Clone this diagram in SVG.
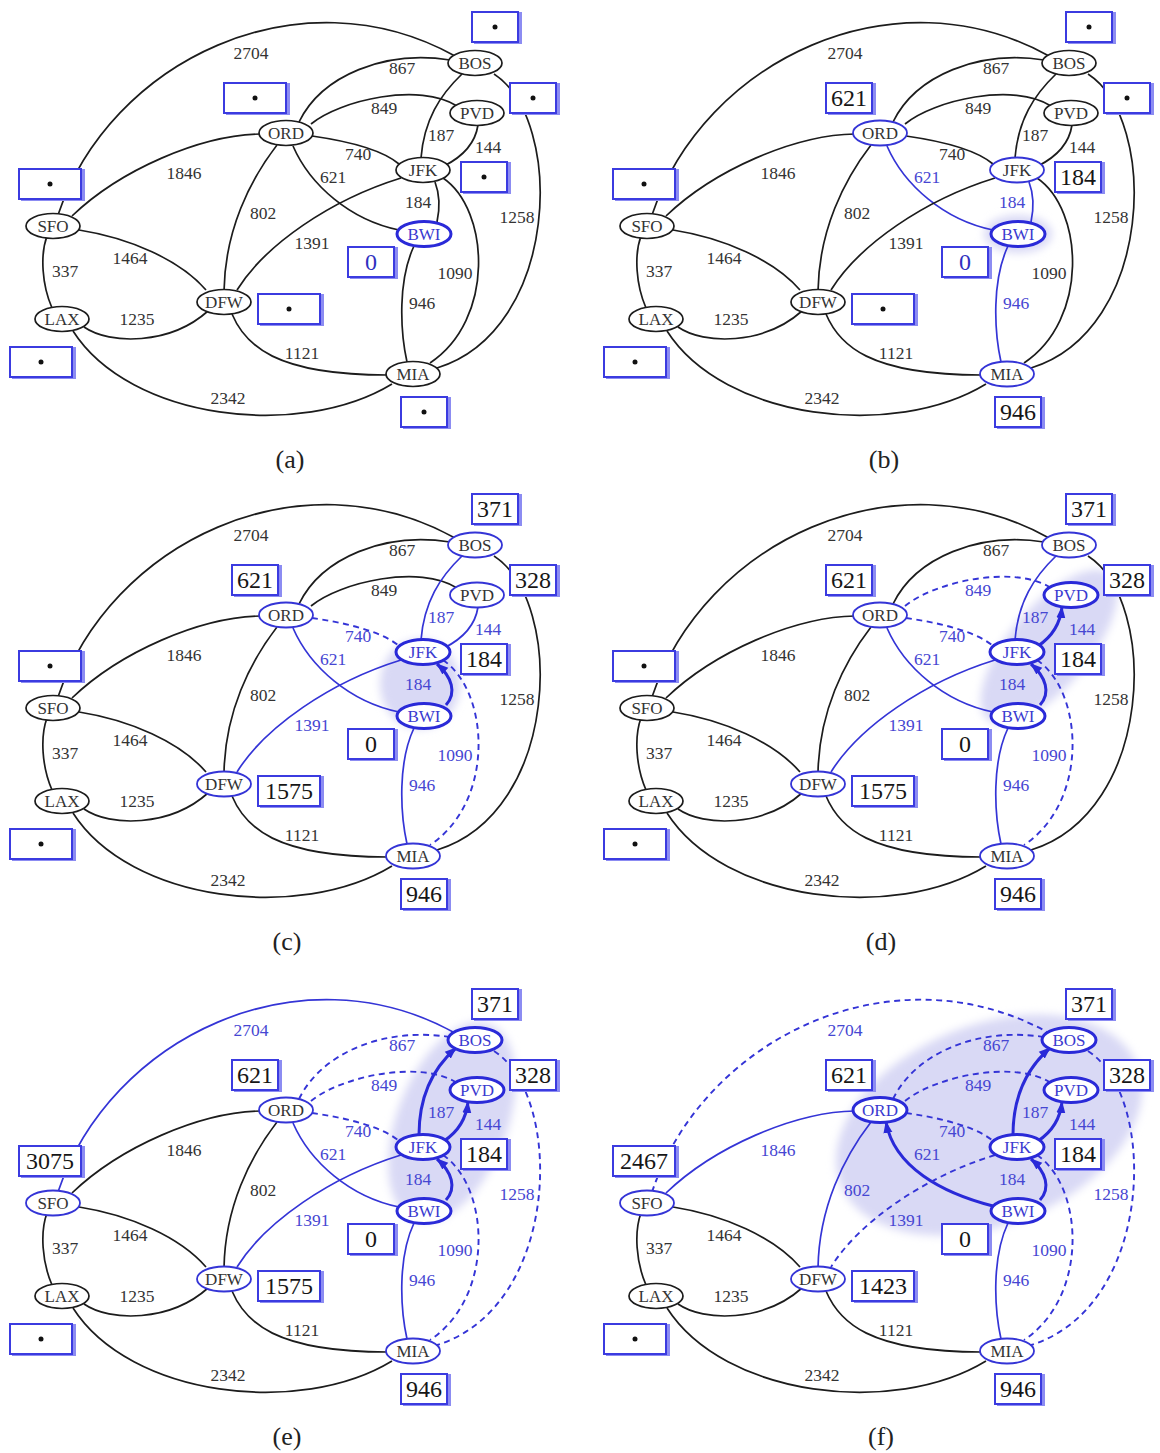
<svg xmlns="http://www.w3.org/2000/svg" xmlns:xlink="http://www.w3.org/1999/xlink" width="1160" height="1453" viewBox="0 0 1160 1453">
<style>
.k{fill:none;stroke:#1c1c1c;stroke-width:1.7}
.b{fill:none;stroke:#3434d6;stroke-width:1.7}
.d{fill:none;stroke:#3434d6;stroke-width:1.9;stroke-dasharray:6 4.5}
.t{fill:none;stroke:#2a2ad8;stroke-width:3;marker-end:url(#ah)}
.lk,.lb{font-family:'Liberation Serif',serif;font-size:17.5px;text-anchor:middle}
.lk{fill:#333}
.lb{fill:#4646d2}
.n0 ellipse{fill:#fff;stroke:#1c1c1c;stroke-width:1.7}
.n1 ellipse{fill:#fff;stroke:#3434d6;stroke-width:1.8}
.n2 ellipse{fill:#fff;stroke:#2a2ad8;stroke-width:3}
.n0 text,.n1 text,.n2 text{font-family:'Liberation Serif',serif;font-size:17px;text-anchor:middle;fill:#333}
.n2 text{fill:#3a3ad0}
.bx rect{fill:#fff;stroke:#3a3ae0;stroke-width:2;filter:url(#sh)}
.bx text{font-family:'Liberation Serif',serif;font-size:24px;text-anchor:middle;fill:#161616}
.bx text.bz{fill:#3030c0}
.bx circle{fill:#111}
.cap{font-family:'Liberation Serif',serif;font-size:26px;text-anchor:middle;fill:#222}
.cl{fill:#d9d9f5;filter:url(#bl)}
</style>
<defs>
<filter id="sh" x="-20%" y="-20%" width="140%" height="140%">
<feOffset in="SourceAlpha" dx="3" dy="1" result="o"/>
<feFlood flood-color="#8c8cf2"/>
<feComposite in2="o" operator="in" result="s"/>
<feMerge><feMergeNode in="s"/><feMergeNode in="SourceGraphic"/></feMerge>
</filter>
<filter id="bl" x="-30%" y="-30%" width="160%" height="160%"><feGaussianBlur stdDeviation="4"/></filter>
<marker id="ah" viewBox="0 0 12 10" refX="11" refY="5" markerWidth="12" markerHeight="10" markerUnits="userSpaceOnUse" orient="auto"><path d="M0,0.5 L12,5 L0,9.5 z" fill="#2a2ad8"/></marker>
<path id="p1" d="M58,215 C110,60 300,-30 455,56"/>
<path id="p2" d="M299,122 C322,75 385,50 450,60"/>
<path id="p3" d="M311,124 C340,100 420,82 457,106"/>
<path id="p4" d="M312,136 C340,140 380,148 399,164"/>
<path id="p5" d="M293,146 C310,185 350,220 399,230"/>
<path id="p6" d="M72,216 C120,170 200,135 261,134"/>
<path id="p7" d="M277,145 C250,180 225,230 224,291"/>
<path id="p8" d="M462,74 C440,95 424,120 421,158"/>
<path id="p9" d="M478,125 C475,145 460,158 444,166"/>
<path id="p10" d="M494,74 C565,120 560,330 437,368"/>
<path id="p11" d="M435,182 C440,195 440,208 437,222"/>
<path id="p12" d="M401,178 C330,200 265,245 237,290"/>
<path id="p13" d="M443,178 C490,210 495,320 430,363"/>
<path id="p14" d="M414,246 C398,280 400,330 407,362"/>
<path id="p15" d="M47,236 C40,255 42,285 52,308"/>
<path id="p16" d="M79,230 C130,238 180,260 206,290"/>
<path id="p17" d="M84,327 C110,345 170,345 208,311"/>
<path id="p18" d="M232,314 C245,345 275,375 387,375"/>
<path id="p19" d="M73,331 C130,420 300,440 392,384"/>
<path id="t11" d="M446,223 C457,211 452,195 437,182"/>
<path id="t9" d="M444,164 C456,156 466,144 468,125"/>
<path id="t8" d="M419,158 C419,120 432,92 456,71"/>
<path id="t5" d="M399,229 C348,216 300,190 292,145"/>
</defs>
<rect width="1160" height="1453" fill="#fff"/>

<!-- ================= (a) ================= -->
<g id="panel-a">
<g id="a-edges">
<use href="#p1" class="k"/><use href="#p2" class="k"/><use href="#p3" class="k"/><use href="#p4" class="k"/><use href="#p5" class="k"/><use href="#p6" class="k"/><use href="#p7" class="k"/><use href="#p8" class="k"/><use href="#p9" class="k"/><use href="#p10" class="k"/><use href="#p11" class="k"/><use href="#p12" class="k"/><use href="#p13" class="k"/><use href="#p14" class="k"/><use href="#p15" class="k"/><use href="#p16" class="k"/><use href="#p17" class="k"/><use href="#p18" class="k"/><use href="#p19" class="k"/>
</g>
<g id="a-labels">
<text class="lk" x="251" y="59">2704</text><text class="lk" x="402" y="74">867</text><text class="lk" x="384" y="114">849</text><text class="lk" x="358" y="160">740</text><text class="lk" x="333" y="183">621</text><text class="lk" x="184" y="179">1846</text><text class="lk" x="263" y="219">802</text><text class="lk" x="441" y="141">187</text><text class="lk" x="488" y="153">144</text><text class="lk" x="517" y="223">1258</text><text class="lk" x="418" y="208">184</text><text class="lk" x="312" y="249">1391</text><text class="lk" x="455" y="279">1090</text><text class="lk" x="422" y="309">946</text><text class="lk" x="65" y="277">337</text><text class="lk" x="130" y="264">1464</text><text class="lk" x="137" y="325">1235</text><text class="lk" x="302" y="359">1121</text><text class="lk" x="228" y="404">2342</text>
</g>
<g id="a-SFO" class="n0"><ellipse cx="53" cy="226" rx="27" ry="12.5"/><text x="53" y="232">SFO</text></g>
<g id="a-LAX" class="n0"><ellipse cx="62" cy="319" rx="27" ry="12.5"/><text x="62" y="325">LAX</text></g>
<g id="a-DFW" class="n0"><ellipse cx="224" cy="302" rx="27" ry="12.5"/><text x="224" y="308">DFW</text></g>
<g id="a-ORD" class="n0"><ellipse cx="286" cy="133" rx="27" ry="12.5"/><text x="286" y="139">ORD</text></g>
<g id="a-BOS" class="n0"><ellipse cx="475" cy="63" rx="27" ry="12.5"/><text x="475" y="69">BOS</text></g>
<g id="a-PVD" class="n0"><ellipse cx="477" cy="113" rx="27" ry="12.5"/><text x="477" y="119">PVD</text></g>
<g id="a-JFK" class="n0"><ellipse cx="423" cy="170" rx="27" ry="12.5"/><text x="423" y="176">JFK</text></g>
<g id="a-BWI" class="n2"><ellipse cx="424" cy="234" rx="27" ry="12.5"/><text x="424" y="240">BWI</text></g>
<g id="a-MIA" class="n0"><ellipse cx="413" cy="374" rx="27" ry="12.5"/><text x="413" y="380">MIA</text></g>
<g id="a-boxes">
<g class="bx"><rect x="472" y="12" width="46" height="30"/><circle cx="495" cy="27" r="2.5"/></g>
<g class="bx"><rect x="510" y="83" width="46" height="30"/><circle cx="533" cy="98" r="2.5"/></g>
<g class="bx"><rect x="224" y="83" width="62" height="30"/><circle cx="255" cy="98" r="2.5"/></g>
<g class="bx"><rect x="461" y="162" width="46" height="30"/><circle cx="484" cy="177" r="2.5"/></g>
<g class="bx"><rect x="348" y="247" width="46" height="30"/><text class="bz" x="371" y="270">0</text></g>
<g class="bx"><rect x="19" y="169" width="62" height="30"/><circle cx="50" cy="184" r="2.5"/></g>
<g class="bx"><rect x="258" y="294" width="62" height="30"/><circle cx="289" cy="309" r="2.5"/></g>
<g class="bx"><rect x="10" y="347" width="62" height="30"/><circle cx="41" cy="362" r="2.5"/></g>
<g class="bx"><rect x="401" y="397" width="46" height="30"/><circle cx="424" cy="412" r="2.5"/></g>
</g>
<text class="cap" x="290" y="468">(a)</text>
</g>

<!-- ================= (b) ================= -->
<g id="panel-b" transform="translate(594,0)">
<ellipse class="cl" cx="424" cy="234" rx="34" ry="19"/>
<g id="b-edges">
<use href="#p1" class="k"/><use href="#p2" class="k"/><use href="#p3" class="k"/><use href="#p4" class="k"/><use href="#p5" class="b"/><use href="#p6" class="k"/><use href="#p7" class="k"/><use href="#p8" class="k"/><use href="#p9" class="k"/><use href="#p10" class="k"/><use href="#p11" class="b"/><use href="#p12" class="k"/><use href="#p13" class="k"/><use href="#p14" class="b"/><use href="#p15" class="k"/><use href="#p16" class="k"/><use href="#p17" class="k"/><use href="#p18" class="k"/><use href="#p19" class="k"/>
</g>
<g id="b-labels">
<text class="lk" x="251" y="59">2704</text><text class="lk" x="402" y="74">867</text><text class="lk" x="384" y="114">849</text><text class="lk" x="358" y="160">740</text><text class="lb" x="333" y="183">621</text><text class="lk" x="184" y="179">1846</text><text class="lk" x="263" y="219">802</text><text class="lk" x="441" y="141">187</text><text class="lk" x="488" y="153">144</text><text class="lk" x="517" y="223">1258</text><text class="lb" x="418" y="208">184</text><text class="lk" x="312" y="249">1391</text><text class="lk" x="455" y="279">1090</text><text class="lb" x="422" y="309">946</text><text class="lk" x="65" y="277">337</text><text class="lk" x="130" y="264">1464</text><text class="lk" x="137" y="325">1235</text><text class="lk" x="302" y="359">1121</text><text class="lk" x="228" y="404">2342</text>
</g>
<g id="b-SFO" class="n0"><ellipse cx="53" cy="226" rx="27" ry="12.5"/><text x="53" y="232">SFO</text></g>
<g id="b-LAX" class="n0"><ellipse cx="62" cy="319" rx="27" ry="12.5"/><text x="62" y="325">LAX</text></g>
<g id="b-DFW" class="n0"><ellipse cx="224" cy="302" rx="27" ry="12.5"/><text x="224" y="308">DFW</text></g>
<g id="b-ORD" class="n1"><ellipse cx="286" cy="133" rx="27" ry="12.5"/><text x="286" y="139">ORD</text></g>
<g id="b-BOS" class="n0"><ellipse cx="475" cy="63" rx="27" ry="12.5"/><text x="475" y="69">BOS</text></g>
<g id="b-PVD" class="n0"><ellipse cx="477" cy="113" rx="27" ry="12.5"/><text x="477" y="119">PVD</text></g>
<g id="b-JFK" class="n1"><ellipse cx="423" cy="170" rx="27" ry="12.5"/><text x="423" y="176">JFK</text></g>
<g id="b-BWI" class="n2"><ellipse cx="424" cy="234" rx="27" ry="12.5"/><text x="424" y="240">BWI</text></g>
<g id="b-MIA" class="n1"><ellipse cx="413" cy="374" rx="27" ry="12.5"/><text x="413" y="380">MIA</text></g>
<g id="b-boxes">
<g class="bx"><rect x="472" y="12" width="46" height="30"/><circle cx="495" cy="27" r="2.5"/></g>
<g class="bx"><rect x="510" y="83" width="46" height="30"/><circle cx="533" cy="98" r="2.5"/></g>
<g class="bx"><rect x="232" y="83" width="46" height="30"/><text x="255" y="106">621</text></g>
<g class="bx"><rect x="461" y="162" width="46" height="30"/><text x="484" y="185">184</text></g>
<g class="bx"><rect x="348" y="247" width="46" height="30"/><text class="bz" x="371" y="270">0</text></g>
<g class="bx"><rect x="19" y="169" width="62" height="30"/><circle cx="50" cy="184" r="2.5"/></g>
<g class="bx"><rect x="258" y="294" width="62" height="30"/><circle cx="289" cy="309" r="2.5"/></g>
<g class="bx"><rect x="10" y="347" width="62" height="30"/><circle cx="41" cy="362" r="2.5"/></g>
<g class="bx"><rect x="401" y="397" width="46" height="30"/><text x="424" y="420">946</text></g>
</g>
<text class="cap" x="290" y="468">(b)</text>
</g>

<!-- ================= (c) ================= -->
<g id="panel-c" transform="translate(0,482)">
<ellipse class="cl" cx="420" cy="202" rx="40" ry="45"/>
<g id="c-edges">
<use href="#p1" class="k"/><use href="#p2" class="k"/><use href="#p3" class="k"/><use href="#p4" class="d"/><use href="#p5" class="b"/><use href="#p6" class="k"/><use href="#p7" class="k"/><use href="#p8" class="b"/><use href="#p9" class="b"/><use href="#p10" class="k"/><use href="#t11" class="t"/><use href="#p12" class="b"/><use href="#p13" class="d"/><use href="#p14" class="b"/><use href="#p15" class="k"/><use href="#p16" class="k"/><use href="#p17" class="k"/><use href="#p18" class="k"/><use href="#p19" class="k"/>
</g>
<g id="c-labels">
<text class="lk" x="251" y="59">2704</text><text class="lk" x="402" y="74">867</text><text class="lk" x="384" y="114">849</text><text class="lb" x="358" y="160">740</text><text class="lb" x="333" y="183">621</text><text class="lk" x="184" y="179">1846</text><text class="lk" x="263" y="219">802</text><text class="lb" x="441" y="141">187</text><text class="lb" x="488" y="153">144</text><text class="lk" x="517" y="223">1258</text><text class="lb" x="418" y="208">184</text><text class="lb" x="312" y="249">1391</text><text class="lb" x="455" y="279">1090</text><text class="lb" x="422" y="309">946</text><text class="lk" x="65" y="277">337</text><text class="lk" x="130" y="264">1464</text><text class="lk" x="137" y="325">1235</text><text class="lk" x="302" y="359">1121</text><text class="lk" x="228" y="404">2342</text>
</g>
<g id="c-SFO" class="n0"><ellipse cx="53" cy="226" rx="27" ry="12.5"/><text x="53" y="232">SFO</text></g>
<g id="c-LAX" class="n0"><ellipse cx="62" cy="319" rx="27" ry="12.5"/><text x="62" y="325">LAX</text></g>
<g id="c-DFW" class="n1"><ellipse cx="224" cy="302" rx="27" ry="12.5"/><text x="224" y="308">DFW</text></g>
<g id="c-ORD" class="n1"><ellipse cx="286" cy="133" rx="27" ry="12.5"/><text x="286" y="139">ORD</text></g>
<g id="c-BOS" class="n1"><ellipse cx="475" cy="63" rx="27" ry="12.5"/><text x="475" y="69">BOS</text></g>
<g id="c-PVD" class="n1"><ellipse cx="477" cy="113" rx="27" ry="12.5"/><text x="477" y="119">PVD</text></g>
<g id="c-JFK" class="n2"><ellipse cx="423" cy="170" rx="27" ry="12.5"/><text x="423" y="176">JFK</text></g>
<g id="c-BWI" class="n2"><ellipse cx="424" cy="234" rx="27" ry="12.5"/><text x="424" y="240">BWI</text></g>
<g id="c-MIA" class="n1"><ellipse cx="413" cy="374" rx="27" ry="12.5"/><text x="413" y="380">MIA</text></g>
<g id="c-boxes">
<g class="bx"><rect x="472" y="12" width="46" height="30"/><text x="495" y="35">371</text></g>
<g class="bx"><rect x="510" y="83" width="46" height="30"/><text x="533" y="106">328</text></g>
<g class="bx"><rect x="232" y="83" width="46" height="30"/><text x="255" y="106">621</text></g>
<g class="bx"><rect x="461" y="162" width="46" height="30"/><text x="484" y="185">184</text></g>
<g class="bx"><rect x="348" y="247" width="46" height="30"/><text x="371" y="270">0</text></g>
<g class="bx"><rect x="19" y="169" width="62" height="30"/><circle cx="50" cy="184" r="2.5"/></g>
<g class="bx"><rect x="258" y="294" width="62" height="30"/><text x="289" y="317">1575</text></g>
<g class="bx"><rect x="10" y="347" width="62" height="30"/><circle cx="41" cy="362" r="2.5"/></g>
<g class="bx"><rect x="401" y="397" width="46" height="30"/><text x="424" y="420">946</text></g>
</g>
<text class="cap" x="287" y="468">(c)</text>
</g>

<!-- ================= (d) ================= -->
<g id="panel-d" transform="translate(594,482)">
<ellipse class="cl" cx="455" cy="165" rx="95" ry="40" transform="rotate(-50 455 165)"/>
<g id="d-edges">
<use href="#p1" class="k"/><use href="#p2" class="k"/><use href="#p3" class="d"/><use href="#p4" class="d"/><use href="#p5" class="b"/><use href="#p6" class="k"/><use href="#p7" class="k"/><use href="#p8" class="b"/><use href="#t9" class="t"/><use href="#p10" class="k"/><use href="#t11" class="t"/><use href="#p12" class="b"/><use href="#p13" class="d"/><use href="#p14" class="b"/><use href="#p15" class="k"/><use href="#p16" class="k"/><use href="#p17" class="k"/><use href="#p18" class="k"/><use href="#p19" class="k"/>
</g>
<g id="d-labels">
<text class="lk" x="251" y="59">2704</text><text class="lk" x="402" y="74">867</text><text class="lb" x="384" y="114">849</text><text class="lb" x="358" y="160">740</text><text class="lb" x="333" y="183">621</text><text class="lk" x="184" y="179">1846</text><text class="lk" x="263" y="219">802</text><text class="lb" x="441" y="141">187</text><text class="lb" x="488" y="153">144</text><text class="lk" x="517" y="223">1258</text><text class="lb" x="418" y="208">184</text><text class="lb" x="312" y="249">1391</text><text class="lb" x="455" y="279">1090</text><text class="lb" x="422" y="309">946</text><text class="lk" x="65" y="277">337</text><text class="lk" x="130" y="264">1464</text><text class="lk" x="137" y="325">1235</text><text class="lk" x="302" y="359">1121</text><text class="lk" x="228" y="404">2342</text>
</g>
<g id="d-SFO" class="n0"><ellipse cx="53" cy="226" rx="27" ry="12.5"/><text x="53" y="232">SFO</text></g>
<g id="d-LAX" class="n0"><ellipse cx="62" cy="319" rx="27" ry="12.5"/><text x="62" y="325">LAX</text></g>
<g id="d-DFW" class="n1"><ellipse cx="224" cy="302" rx="27" ry="12.5"/><text x="224" y="308">DFW</text></g>
<g id="d-ORD" class="n1"><ellipse cx="286" cy="133" rx="27" ry="12.5"/><text x="286" y="139">ORD</text></g>
<g id="d-BOS" class="n1"><ellipse cx="475" cy="63" rx="27" ry="12.5"/><text x="475" y="69">BOS</text></g>
<g id="d-PVD" class="n2"><ellipse cx="477" cy="113" rx="27" ry="12.5"/><text x="477" y="119">PVD</text></g>
<g id="d-JFK" class="n2"><ellipse cx="423" cy="170" rx="27" ry="12.5"/><text x="423" y="176">JFK</text></g>
<g id="d-BWI" class="n2"><ellipse cx="424" cy="234" rx="27" ry="12.5"/><text x="424" y="240">BWI</text></g>
<g id="d-MIA" class="n1"><ellipse cx="413" cy="374" rx="27" ry="12.5"/><text x="413" y="380">MIA</text></g>
<g id="d-boxes">
<g class="bx"><rect x="472" y="12" width="46" height="30"/><text x="495" y="35">371</text></g>
<g class="bx"><rect x="510" y="83" width="46" height="30"/><text x="533" y="106">328</text></g>
<g class="bx"><rect x="232" y="83" width="46" height="30"/><text x="255" y="106">621</text></g>
<g class="bx"><rect x="461" y="162" width="46" height="30"/><text x="484" y="185">184</text></g>
<g class="bx"><rect x="348" y="247" width="46" height="30"/><text x="371" y="270">0</text></g>
<g class="bx"><rect x="19" y="169" width="62" height="30"/><circle cx="50" cy="184" r="2.5"/></g>
<g class="bx"><rect x="258" y="294" width="62" height="30"/><text x="289" y="317">1575</text></g>
<g class="bx"><rect x="10" y="347" width="62" height="30"/><circle cx="41" cy="362" r="2.5"/></g>
<g class="bx"><rect x="401" y="397" width="46" height="30"/><text x="424" y="420">946</text></g>
</g>
<text class="cap" x="287" y="468">(d)</text>
</g>

<!-- ================= (e) ================= -->
<g id="panel-e" transform="translate(0,977)">
<ellipse class="cl" cx="452" cy="145" rx="105" ry="55" transform="rotate(-69 452 145)"/>
<g id="e-edges">
<use href="#p1" class="b"/><use href="#p2" class="d"/><use href="#p3" class="d"/><use href="#p4" class="d"/><use href="#p5" class="b"/><use href="#p6" class="k"/><use href="#p7" class="k"/><use href="#t8" class="t"/><use href="#t9" class="t"/><use href="#p10" class="d"/><use href="#t11" class="t"/><use href="#p12" class="b"/><use href="#p13" class="d"/><use href="#p14" class="b"/><use href="#p15" class="k"/><use href="#p16" class="k"/><use href="#p17" class="k"/><use href="#p18" class="k"/><use href="#p19" class="k"/>
</g>
<g id="e-labels">
<text class="lb" x="251" y="59">2704</text><text class="lb" x="402" y="74">867</text><text class="lb" x="384" y="114">849</text><text class="lb" x="358" y="160">740</text><text class="lb" x="333" y="183">621</text><text class="lk" x="184" y="179">1846</text><text class="lk" x="263" y="219">802</text><text class="lb" x="441" y="141">187</text><text class="lb" x="488" y="153">144</text><text class="lb" x="517" y="223">1258</text><text class="lb" x="418" y="208">184</text><text class="lb" x="312" y="249">1391</text><text class="lb" x="455" y="279">1090</text><text class="lb" x="422" y="309">946</text><text class="lk" x="65" y="277">337</text><text class="lk" x="130" y="264">1464</text><text class="lk" x="137" y="325">1235</text><text class="lk" x="302" y="359">1121</text><text class="lk" x="228" y="404">2342</text>
</g>
<g id="e-SFO" class="n1"><ellipse cx="53" cy="226" rx="27" ry="12.5"/><text x="53" y="232">SFO</text></g>
<g id="e-LAX" class="n0"><ellipse cx="62" cy="319" rx="27" ry="12.5"/><text x="62" y="325">LAX</text></g>
<g id="e-DFW" class="n1"><ellipse cx="224" cy="302" rx="27" ry="12.5"/><text x="224" y="308">DFW</text></g>
<g id="e-ORD" class="n1"><ellipse cx="286" cy="133" rx="27" ry="12.5"/><text x="286" y="139">ORD</text></g>
<g id="e-BOS" class="n2"><ellipse cx="475" cy="63" rx="27" ry="12.5"/><text x="475" y="69">BOS</text></g>
<g id="e-PVD" class="n2"><ellipse cx="477" cy="113" rx="27" ry="12.5"/><text x="477" y="119">PVD</text></g>
<g id="e-JFK" class="n2"><ellipse cx="423" cy="170" rx="27" ry="12.5"/><text x="423" y="176">JFK</text></g>
<g id="e-BWI" class="n2"><ellipse cx="424" cy="234" rx="27" ry="12.5"/><text x="424" y="240">BWI</text></g>
<g id="e-MIA" class="n1"><ellipse cx="413" cy="374" rx="27" ry="12.5"/><text x="413" y="380">MIA</text></g>
<g id="e-boxes">
<g class="bx"><rect x="472" y="12" width="46" height="30"/><text x="495" y="35">371</text></g>
<g class="bx"><rect x="510" y="83" width="46" height="30"/><text x="533" y="106">328</text></g>
<g class="bx"><rect x="232" y="83" width="46" height="30"/><text x="255" y="106">621</text></g>
<g class="bx"><rect x="461" y="162" width="46" height="30"/><text x="484" y="185">184</text></g>
<g class="bx"><rect x="348" y="247" width="46" height="30"/><text x="371" y="270">0</text></g>
<g class="bx"><rect x="19" y="169" width="62" height="30"/><text x="50" y="192">3075</text></g>
<g class="bx"><rect x="258" y="294" width="62" height="30"/><text x="289" y="317">1575</text></g>
<g class="bx"><rect x="10" y="347" width="62" height="30"/><circle cx="41" cy="362" r="2.5"/></g>
<g class="bx"><rect x="401" y="397" width="46" height="30"/><text x="424" y="420">946</text></g>
</g>
<text class="cap" x="287" y="468">(e)</text>
</g>

<!-- ================= (f) ================= -->
<g id="panel-f" transform="translate(594,977)">
<ellipse class="cl" cx="395" cy="148" rx="160" ry="100" transform="rotate(-22 395 148)"/>
<g id="f-edges">
<use href="#p1" class="d"/><use href="#p2" class="d"/><use href="#p3" class="d"/><use href="#p4" class="d"/><use href="#t5" class="t"/><use href="#p6" class="b"/><use href="#p7" class="b"/><use href="#t8" class="t"/><use href="#t9" class="t"/><use href="#p10" class="d"/><use href="#t11" class="t"/><use href="#p12" class="d"/><use href="#p13" class="d"/><use href="#p14" class="b"/><use href="#p15" class="k"/><use href="#p16" class="k"/><use href="#p17" class="k"/><use href="#p18" class="k"/><use href="#p19" class="k"/>
</g>
<g id="f-labels">
<text class="lb" x="251" y="59">2704</text><text class="lb" x="402" y="74">867</text><text class="lb" x="384" y="114">849</text><text class="lb" x="358" y="160">740</text><text class="lb" x="333" y="183">621</text><text class="lb" x="184" y="179">1846</text><text class="lb" x="263" y="219">802</text><text class="lb" x="441" y="141">187</text><text class="lb" x="488" y="153">144</text><text class="lb" x="517" y="223">1258</text><text class="lb" x="418" y="208">184</text><text class="lb" x="312" y="249">1391</text><text class="lb" x="455" y="279">1090</text><text class="lb" x="422" y="309">946</text><text class="lk" x="65" y="277">337</text><text class="lk" x="130" y="264">1464</text><text class="lk" x="137" y="325">1235</text><text class="lk" x="302" y="359">1121</text><text class="lk" x="228" y="404">2342</text>
</g>
<g id="f-SFO" class="n1"><ellipse cx="53" cy="226" rx="27" ry="12.5"/><text x="53" y="232">SFO</text></g>
<g id="f-LAX" class="n0"><ellipse cx="62" cy="319" rx="27" ry="12.5"/><text x="62" y="325">LAX</text></g>
<g id="f-DFW" class="n1"><ellipse cx="224" cy="302" rx="27" ry="12.5"/><text x="224" y="308">DFW</text></g>
<g id="f-ORD" class="n2"><ellipse cx="286" cy="133" rx="27" ry="12.5"/><text x="286" y="139">ORD</text></g>
<g id="f-BOS" class="n2"><ellipse cx="475" cy="63" rx="27" ry="12.5"/><text x="475" y="69">BOS</text></g>
<g id="f-PVD" class="n2"><ellipse cx="477" cy="113" rx="27" ry="12.5"/><text x="477" y="119">PVD</text></g>
<g id="f-JFK" class="n2"><ellipse cx="423" cy="170" rx="27" ry="12.5"/><text x="423" y="176">JFK</text></g>
<g id="f-BWI" class="n2"><ellipse cx="424" cy="234" rx="27" ry="12.5"/><text x="424" y="240">BWI</text></g>
<g id="f-MIA" class="n1"><ellipse cx="413" cy="374" rx="27" ry="12.5"/><text x="413" y="380">MIA</text></g>
<g id="f-boxes">
<g class="bx"><rect x="472" y="12" width="46" height="30"/><text x="495" y="35">371</text></g>
<g class="bx"><rect x="510" y="83" width="46" height="30"/><text x="533" y="106">328</text></g>
<g class="bx"><rect x="232" y="83" width="46" height="30"/><text x="255" y="106">621</text></g>
<g class="bx"><rect x="461" y="162" width="46" height="30"/><text x="484" y="185">184</text></g>
<g class="bx"><rect x="348" y="247" width="46" height="30"/><text x="371" y="270">0</text></g>
<g class="bx"><rect x="19" y="169" width="62" height="30"/><text x="50" y="192">2467</text></g>
<g class="bx"><rect x="258" y="294" width="62" height="30"/><text x="289" y="317">1423</text></g>
<g class="bx"><rect x="10" y="347" width="62" height="30"/><circle cx="41" cy="362" r="2.5"/></g>
<g class="bx"><rect x="401" y="397" width="46" height="30"/><text x="424" y="420">946</text></g>
</g>
<text class="cap" x="287" y="468">(f)</text>
</g>
</svg>
